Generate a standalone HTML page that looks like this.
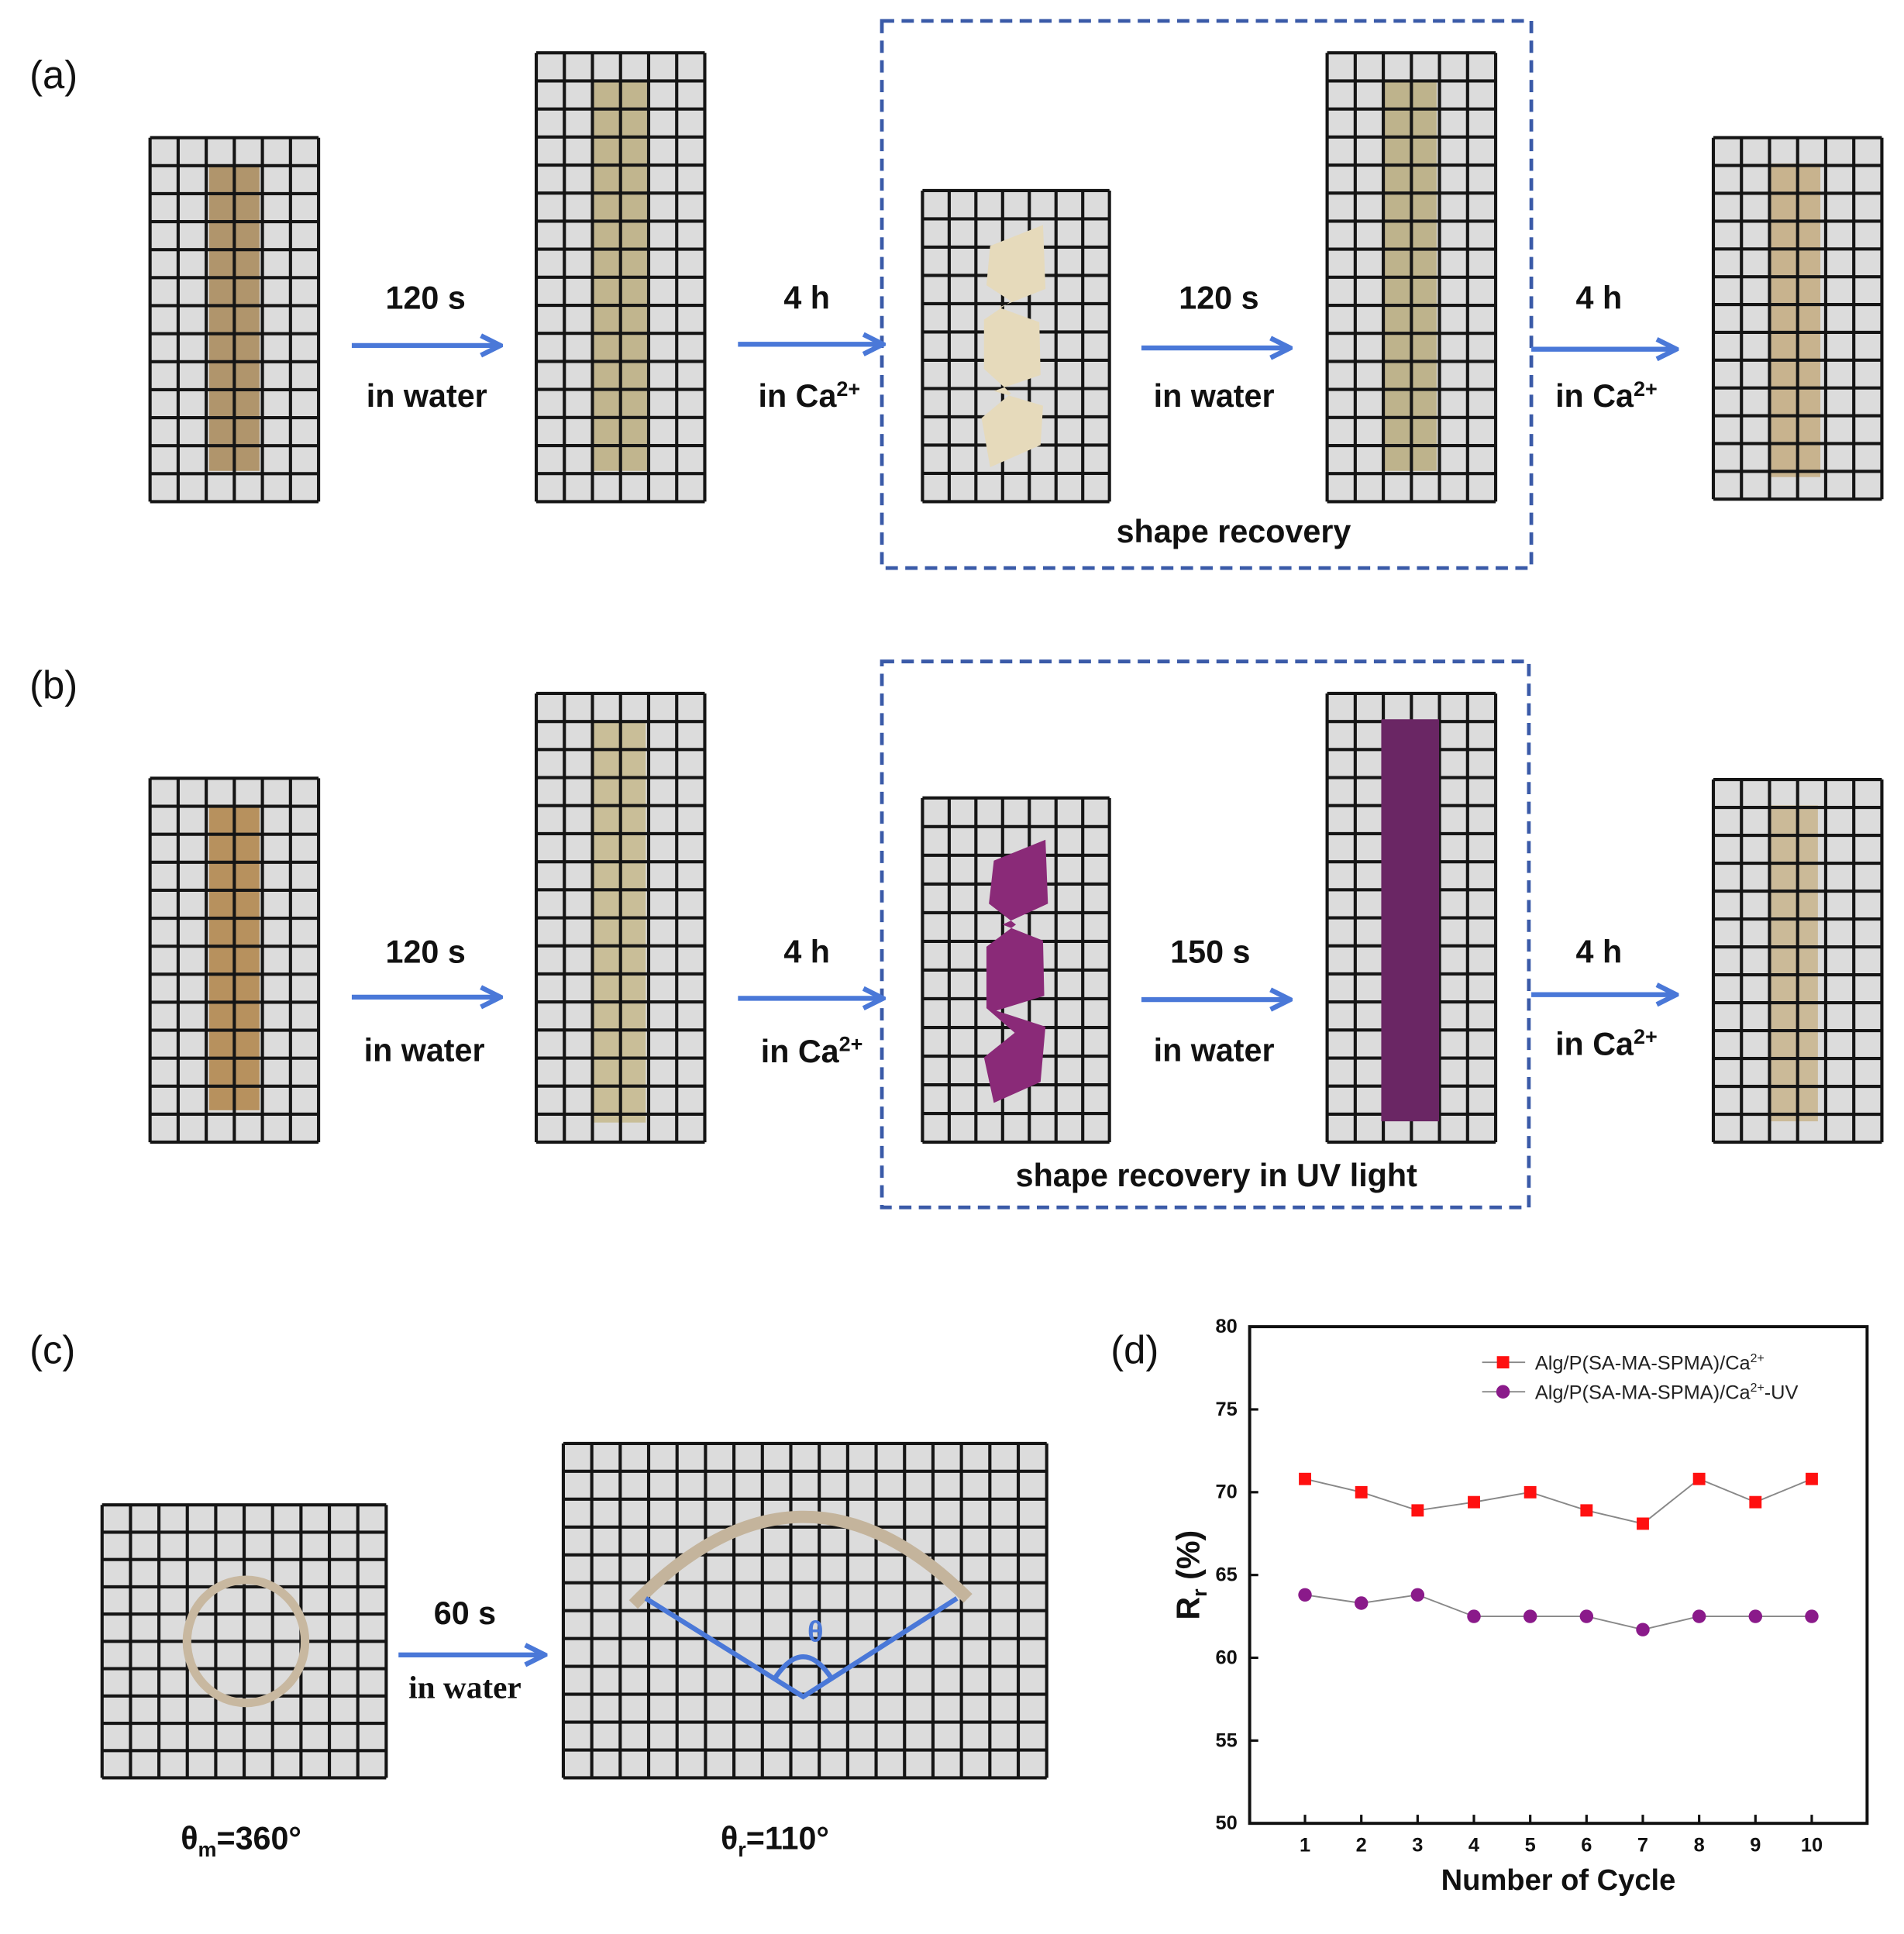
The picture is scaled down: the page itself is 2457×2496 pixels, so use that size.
<!DOCTYPE html>
<html><head><meta charset="utf-8"><style>
html,body{margin:0;padding:0;background:#fff}
svg{display:block}
.lbl{font-family:"Liberation Sans",sans-serif;font-size:32px;fill:#111}
.t{font-family:"Liberation Sans",sans-serif;font-weight:bold;font-size:26px;fill:#111;text-anchor:middle}
.tick{font-family:"Liberation Sans",sans-serif;font-weight:bold;font-size:16px;fill:#111}
.leg{font-family:"Liberation Sans",sans-serif;font-size:16px;fill:#222}
</style></head><body>
<svg id="fig" xmlns="http://www.w3.org/2000/svg" width="2457" height="2496" viewBox="0 0 1548 1573" preserveAspectRatio="none">
<defs><marker id="ah" viewBox="0 0 10 10" refX="9" refY="5" markerWidth="5" markerHeight="5" orient="auto"><path d="M1,1 L9,5 L1,9" fill="none" stroke="#4a78d8" stroke-width="2"/></marker></defs>
<g id="photos"></g>
<g>
<text class="lbl" x="24" y="72">(a)</text>
<text class="lbl" x="24" y="568">(b)</text>
<text class="lbl" x="24" y="1109">(c)</text>
<text class="lbl" x="903" y="1109">(d)</text>
</g>
<g fill="none" stroke="#3a5aa8" stroke-width="3" stroke-dasharray="10,6">
<rect x="717" y="17" width="528" height="445"/>
<rect x="717" y="538" width="526" height="444"/>
</g>
<g stroke="#4a78d8" stroke-width="4" marker-end="url(#ah)">
<line x1="286" y1="281" x2="407" y2="281"/><line x1="600" y1="280" x2="718" y2="280"/>
<line x1="928" y1="283" x2="1049" y2="283"/><line x1="1245" y1="284" x2="1363" y2="284"/>
<line x1="286" y1="811" x2="407" y2="811"/><line x1="600" y1="812" x2="718" y2="812"/>
<line x1="928" y1="813" x2="1049" y2="813"/><line x1="1245" y1="809" x2="1363" y2="809"/>
<line x1="324" y1="1346" x2="443" y2="1346"/>
</g>
<g>
<text class="t" x="346" y="251">120 s</text><text class="t" x="347" y="331">in water</text>
<text class="t" x="656" y="251">4 h</text><text class="t" x="658" y="331">in Ca<tspan font-size="17" dy="-9">2+</tspan></text>
<text class="t" x="991" y="251">120 s</text><text class="t" x="987" y="331">in water</text>
<text class="t" x="1300" y="251">4 h</text><text class="t" x="1306" y="331">in Ca<tspan font-size="17" dy="-9">2+</tspan></text>
<text class="t" x="1003" y="441">shape recovery</text>
<text class="t" x="346" y="783">120 s</text><text class="t" x="345" y="863">in water</text>
<text class="t" x="656" y="783">4 h</text><text class="t" x="660" y="864">in Ca<tspan font-size="17" dy="-9">2+</tspan></text>
<text class="t" x="984" y="783">150 s</text><text class="t" x="987" y="863">in water</text>
<text class="t" x="1300" y="783">4 h</text><text class="t" x="1306" y="858">in Ca<tspan font-size="17" dy="-9">2+</tspan></text>
<text class="t" x="989" y="965">shape recovery in  UV light</text>
<text class="t" x="378" y="1321">60 s</text>
<text class="t" x="378" y="1381" style="font-family:'Liberation Serif',serif">in water</text>
<text class="t" x="196" y="1504">θ<tspan font-size="17" dy="6">m</tspan><tspan dy="-6">=360°</tspan></text>
<text class="t" x="630" y="1504">θ<tspan font-size="17" dy="6">r</tspan><tspan dy="-6">=110°</tspan></text>
</g>
<g id="chart"></g>
</svg>
<script>
const cycles=[1,2,3,4,5,6,7,8,9,10];
const seriesCa=[70.8,70.0,68.9,69.4,70.0,68.9,68.1,70.8,69.4,70.8];
const seriesUV=[63.8,63.3,63.8,62.5,62.5,62.5,61.7,62.5,62.5,62.5];
const yTicks=[50,55,60,65,70,75,80];
const NS="http://www.w3.org/2000/svg";
function mk(p,tag,a){const e=document.createElementNS(NS,tag);for(const k in a)e.setAttribute(k,a[k]);p.appendChild(e);return e;}
const ph=document.getElementById('photos');
function grid(x,y,w,h,name){
 const g=mk(ph,'g',{});
 
 
 mk(g,'rect',{x:x,y:y,width:w,height:h,fill:'#dcdcdc'});
 return g;
}
function lines(g,x,y,w,h,cols,rows){
 for(let i=0;i<=cols;i++){const xx=x+w*i/cols;mk(g,'line',{x1:xx,y1:y,x2:xx,y2:y+h,stroke:'#151515','stroke-width':2.6});}
 for(let j=0;j<=rows;j++){const yy=y+h*j/rows;mk(g,'line',{x1:x,y1:yy,x2:x+w,y2:yy,stroke:'#151515','stroke-width':2.6});}
}
function strip(g,x,y,w,h,col){mk(g,'rect',{x:x,y:y,width:w,height:h,fill:col,opacity:0.85});}
const G=[
 [122,112,137,296,6,13,'grid-a1',0,s=>strip(s,170,135,41,248,'#a88858')],
 [436,43,137,365,6,16,'grid-a2',0,s=>strip(s,483,67,43,316,'#bcae80')],
 [750,155,152,253,7,11,'grid-a3',1,s=>mk(s,'path',{d:'M805,200 L848,183 L850,235 L812,250 L845,262 L846,305 L808,318 L848,330 L846,362 L805,380 L798,340 L822,320 L800,300 L800,260 L822,245 L802,232 Z',fill:'#e6dabb'})],
 [1079,43,137,365,6,16,'grid-a4',0,s=>strip(s,1125,67,43,316,'#b9ab7e')],
 [1393,112,137,294,6,13,'grid-a5',0,s=>strip(s,1440,133,40,255,'#c4ab80')],
 [122,633,137,296,6,13,'grid-b1',0,s=>strip(s,170,656,41,247,'#b08448')],
 [436,564,137,365,6,16,'grid-b2',0,s=>strip(s,482,587,43,326,'#c6b98c')],
 [750,649,152,280,7,12,'grid-b3',1,s=>mk(s,'path',{d:'M808,700 L850,683 L852,735 L815,752 L848,765 L849,810 L810,822 L850,835 L846,880 L808,897 L800,860 L825,840 L802,820 L802,770 L826,752 L804,735 Z',fill:'#8a2a78'})],
 [1079,564,137,365,6,16,'grid-b4',1,s=>mk(s,'rect',{x:1123,y:585,width:47,height:327,fill:'#6a2664'})],
 [1393,634,137,295,6,13,'grid-b5',0,s=>strip(s,1440,655,38,257,'#c8b48c')],
 [83,1224,231,222,10,10,'grid-c1',1,s=>mk(s,'ellipse',{cx:200,cy:1335,rx:48,ry:50,fill:'none',stroke:'#c8b8a0','stroke-width':7})],
 [458,1174,393,272,17,12,'grid-c2',1,s=>mk(s,'path',{d:'M515,1305 Q651,1165 787,1300',fill:'none',stroke:'#c4b49c','stroke-width':10})]
];
G.forEach(a=>{const g=grid(a[0],a[1],a[2],a[3],a[6]);if(!a[7])a[8](g);lines(g,a[0],a[1],a[2],a[3],a[4],a[5]);if(a[7])a[8](g);});
const v=mk(ph,'path',{d:'M525,1300 L653,1380 L778,1300 M630,1365 Q653,1330 676,1365',fill:'none',stroke:'#4a78d8','stroke-width':4});


const th=mk(ph,'text',{x:663,y:1335,'text-anchor':'middle','font-family':'Liberation Sans,sans-serif','font-weight':'bold','font-size':24,fill:'#4a78d8'});th.textContent='θ';


const C=document.getElementById('chart');
const L=1016,R=1518,T=1079,B=1483;
const xS=c=>1061+(c-1)*(1473-1061)/9;
const yS=v=>B-(v-50)*(B-T)/30;
const frame=mk(C,'rect',{x:L,y:T,width:R-L,height:B-T,fill:'none',stroke:'#111','stroke-width':2.5});


yTicks.forEach(t=>{mk(C,'line',{x1:L,y1:yS(t),x2:L+7,y2:yS(t),stroke:'#111','stroke-width':2});
 const e=mk(C,'text',{x:L-10,y:yS(t)+5,'text-anchor':'end',class:'tick'});e.textContent=t;
 
 });
cycles.forEach(c=>{mk(C,'line',{x1:xS(c),y1:B,x2:xS(c),y2:B-7,stroke:'#111','stroke-width':2});
 const e=mk(C,'text',{x:xS(c),y:B+23,'text-anchor':'middle',class:'tick'});e.textContent=c;
 
 });
function series(vals,col,shape,name){
 const g=mk(C,'g',{});
 
 
 mk(g,'polyline',{points:vals.map((v,i)=>xS(cycles[i])+','+yS(v)).join(' '),fill:'none',stroke:'#888','stroke-width':1.2});
 vals.forEach((v,i)=>{const x=xS(cycles[i]),y=yS(v);
  const m=shape==='sq'?mk(g,'rect',{x:x-5,y:y-5,width:10,height:10,fill:col}):mk(g,'circle',{cx:x,cy:y,r:5.5,fill:col});
  
  });
}
series(seriesCa,'#ff1010','sq','series-ca');
series(seriesUV,'#8a1a8a','ci','series-ca-uv');
const lg=mk(C,'g',{});


mk(lg,'line',{x1:1205,y1:1108,x2:1240,y2:1108,stroke:'#888','stroke-width':1.2});
mk(lg,'rect',{x:1217,y:1103,width:10,height:10,fill:'#ff1010'});
mk(lg,'line',{x1:1205,y1:1132,x2:1240,y2:1132,stroke:'#888','stroke-width':1.2});
mk(lg,'circle',{cx:1222,cy:1132,r:5.5,fill:'#8a1a8a'});
const l1=mk(lg,'text',{x:1248,y:1114,class:'leg'});l1.innerHTML='Alg/P(SA-MA-SPMA)/Ca<tspan font-size="10" dy="-6">2+</tspan>';
const l2=mk(lg,'text',{x:1248,y:1138,class:'leg'});l2.innerHTML='Alg/P(SA-MA-SPMA)/Ca<tspan font-size="10" dy="-6">2+</tspan><tspan dy="6">-UV</tspan>';
const xl=mk(C,'text',{x:1267,y:1537,'text-anchor':'middle','font-family':'Liberation Sans,sans-serif','font-weight':'bold','font-size':24,fill:'#111'});xl.textContent='Number of Cycle';


const yl=mk(C,'text',{x:0,y:0,transform:'translate(975,1281) rotate(-90)','text-anchor':'middle','font-family':'Liberation Sans,sans-serif','font-weight':'bold','font-size':26,fill:'#111'});yl.innerHTML='R<tspan font-size="17" dy="6">r</tspan><tspan dy="-6"> (%)</tspan>';


</script>
</body></html>
